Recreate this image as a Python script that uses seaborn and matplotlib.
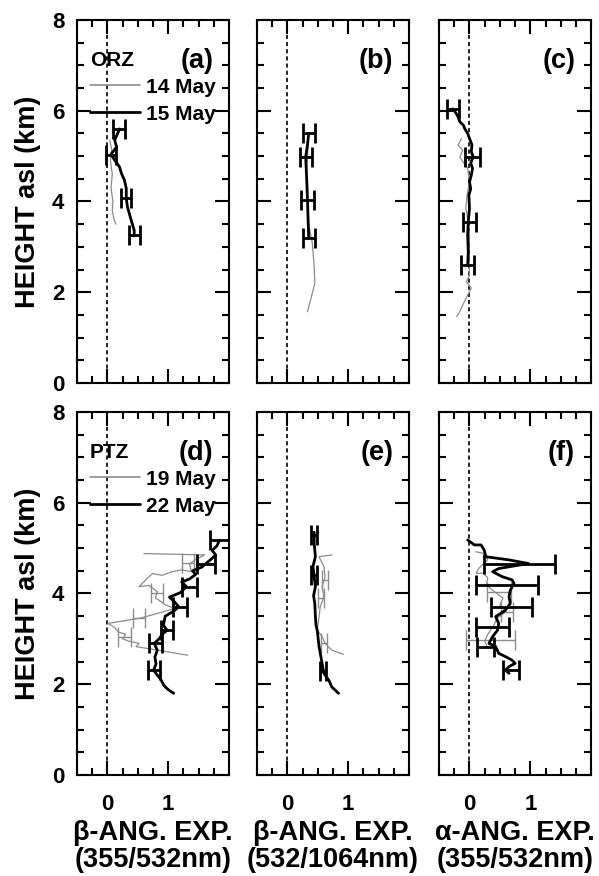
import numpy as np
import pandas as pd
import matplotlib
matplotlib.use('Agg')
import matplotlib.pyplot as plt
from matplotlib.ticker import MultipleLocator
from matplotlib.lines import Line2D
import seaborn as sns

sns.set_style("ticks")
plt.rcParams['font.family'] = ['Liberation Sans', 'DejaVu Sans']
plt.rcParams['font.weight'] = 'bold'
plt.rcParams['text.color'] = 'black'
plt.rcParams['axes.labelcolor'] = 'black'
plt.rcParams['xtick.color'] = 'black'
plt.rcParams['ytick.color'] = 'black'
plt.rcParams['axes.edgecolor'] = 'black'

# ---- data ----
# (a) ORZ beta 355/532
a14_x = [0.04, 0.07, 0.05, 0.08, 0.06, 0.09, 0.08, 0.11, 0.14]
a14_y = [5.35, 5.15, 4.9, 4.6, 4.3, 4.0, 3.8, 3.6, 3.5]
a15_x = [0.20, 0.12, 0.15, 0.06, 0.12, 0.20, 0.23, 0.28, 0.31, 0.31, 0.33, 0.39, 0.44, 0.44]
a15_y = [5.6, 5.35, 5.2, 5.04, 4.91, 4.76, 4.62, 4.47, 4.29, 4.07, 3.88, 3.59, 3.37, 3.24]
a_err_x = [0.19, 0.06, 0.31, 0.44]
a_err_y = [5.6, 5.02, 4.07, 3.26]
a_err = [0.1, 0.08, 0.08, 0.09]

# (b) ORZ beta 532/1064
b14_x = [0.35, 0.33, 0.31, 0.33, 0.35, 0.41, 0.44, 0.45, 0.41, 0.33]
b14_y = [5.5, 5.0, 4.5, 4.0, 3.5, 3.08, 2.56, 2.2, 1.98, 1.57]
b15_x = [0.35, 0.33, 0.30, 0.31, 0.32, 0.33, 0.34, 0.35]
b15_y = [5.5, 5.25, 4.98, 4.7, 4.4, 4.03, 3.6, 3.19]
b_err_x = [0.35, 0.30, 0.33, 0.35]
b_err_y = [5.5, 4.98, 4.03, 3.19]
b_err = [0.1, 0.1, 0.1, 0.1]

# (c) ORZ alpha 355/532
c14_x = [-0.13, -0.19, -0.11, -0.16, -0.11, -0.03, 0.0, -0.04, -0.06, -0.02, 0.0, -0.01, 0.0,
         -0.05, 0.03, -0.03, -0.11, -0.16, -0.21]
c14_y = [5.39, 5.24, 5.13, 4.98, 4.88, 4.73, 4.43, 4.14, 3.85, 3.55, 3.26, 2.9, 2.38,
         2.23, 2.09, 1.94, 1.72, 1.57, 1.46]
c15_x = [-0.27, -0.20, -0.16, -0.10, -0.08, -0.03, 0.0, 0.04, 0.03, 0.06, 0.02, 0.05, 0.03,
         0.0, 0.02, -0.01, 0.0, -0.02, -0.03, -0.02, -0.03]
c15_y = [6.04, 5.9, 5.76, 5.68, 5.61, 5.5, 5.39, 5.25, 5.1, 4.98, 4.85, 4.73, 4.58,
         4.43, 4.28, 4.14, 3.85, 3.55, 3.26, 2.89, 2.6]
c_err_x = [-0.27, 0.05, 0.0, -0.03]
c_err_y = [6.04, 4.98, 3.55, 2.6]
c_err = [0.1, 0.12, 0.11, 0.11]

# (d) PTZ beta 355/532
d19_x = [1.32, 0.47, 0.52, 0.35, 0.25, 0.30, 0.18, 0.12, 0.01, 0.55, 1.11, 0.95, 0.85, 0.79,
         0.82, 0.68, 0.52, 0.63, 0.74, 0.90, 1.06, 1.22, 1.38, 1.35, 1.45, 1.60, 0.60]
d19_y = [2.64, 2.83, 2.9, 2.95, 3.0, 3.1, 3.15, 3.25, 3.34, 3.46, 3.67, 3.75, 3.85, 3.9,
         4.04, 4.18, 4.15, 4.30, 4.44, 4.40, 4.48, 4.52, 4.48, 4.65, 4.75, 4.85, 4.88]
d19_err_x = [0.28, 0.52, 0.82, 1.32]
d19_err_y = [3.05, 3.45, 4.0, 4.67]
d19_err = [0.1, 0.1, 0.1, 0.1]
d22_x = [1.09, 1.0, 0.93, 0.88, 0.82, 0.76, 0.80, 0.78, 0.82, 0.77, 0.85, 0.90, 0.98, 0.92,
         0.95, 1.10, 1.17, 1.10, 1.02, 1.20, 1.30, 1.22, 1.35, 1.45, 1.40, 1.55, 1.62, 1.70,
         1.78, 1.72, 1.80, 1.84]
d22_y = [1.80, 1.88, 1.97, 2.1, 2.2, 2.31, 2.45, 2.6, 2.75, 2.9, 3.0, 3.1, 3.19, 3.3,
         3.5, 3.62, 3.71, 3.82, 3.92, 4.02, 4.15, 4.25, 4.32, 4.42, 4.5, 4.58, 4.66, 4.75,
         4.85, 4.95, 5.05, 5.17]
d22_err_x = [0.76, 0.79, 0.98, 1.19, 1.35, 1.62, 1.84]
d22_err_y = [2.31, 2.9, 3.19, 3.71, 4.15, 4.66, 5.17]
d22_err = [0.1, 0.1, 0.1, 0.12, 0.12, 0.15, 0.15]

# (e) PTZ beta 532/1064
e19_x = [0.73, 0.52, 0.60, 0.62, 0.57, 0.60, 0.54, 0.52, 0.49, 0.57, 0.62, 0.73, 0.92]
e19_y = [4.85, 4.81, 4.59, 4.37, 4.15, 3.93, 3.71, 3.49, 3.19, 3.05, 2.90, 2.75, 2.66]
e19_err_x = [0.62, 0.55, 0.60]
e19_err_y = [4.3, 3.9, 2.9]
e19_err = [0.05, 0.05, 0.05]
e22_x = [0.44, 0.44, 0.46, 0.42, 0.44, 0.46, 0.43, 0.45, 0.46, 0.47, 0.49, 0.52, 0.57,
         0.60, 0.68, 0.73, 0.84]
e22_y = [5.35, 5.10, 4.81, 4.6, 4.37, 4.15, 3.95, 3.78, 3.49, 3.3, 3.19, 2.83, 2.46,
         2.24, 2.09, 1.94, 1.80]
e22_err_x = [0.44, 0.44, 0.58]
e22_err_y = [5.3, 4.4, 2.3]
e22_err = [0.05, 0.05, 0.05]

# (f) PTZ alpha 355/532
f19_x = [0.10, 0.25, 0.30, 0.15, 0.11, 0.22, 0.30, 0.28, 0.35, 0.45, 0.55, 0.50, 0.60,
         0.45, 0.40, 0.30, 0.25, 0.30]
f19_y = [4.92, 4.88, 4.75, 4.55, 4.44, 4.45, 4.35, 4.2, 4.1, 4.0, 3.9, 3.75, 3.6,
         3.45, 3.3, 3.1, 2.95, 2.8]
f19_err_x = [0.49, 0.62, 0.35]
f19_err_y = [4.04, 3.6, 2.97]
f19_err = [0.2, 0.1, 0.4]
f22_x = [-0.03, 0.08, 0.19, 0.24, 0.27, 0.65, 0.97, 0.70, 0.48, 0.38, 0.54, 0.70, 0.73,
         0.67, 0.65, 0.67, 0.59, 0.43, 0.48, 0.46, 0.38, 0.32, 0.43, 0.48, 0.59, 0.70,
         0.75, 0.65, 0.59, 0.65]
f22_y = [5.18, 5.07, 5.07, 4.96, 4.81, 4.74, 4.66, 4.60, 4.55, 4.48, 4.37, 4.30, 4.22,
         4.07, 3.93, 3.78, 3.63, 3.49, 3.34, 3.19, 3.05, 2.90, 2.83, 2.68, 2.61, 2.53,
         2.46, 2.39, 2.31, 2.24]
f22_err_x = [0.82, 0.62, 0.69, 0.38, 0.26, 0.68]
f22_err_y = [4.66, 4.18, 3.71, 3.27, 2.83, 2.31]
f22_err = [0.58, 0.51, 0.34, 0.27, 0.14, 0.13]

panel_tags = ['(a)', '(b)', '(c)', '(d)', '(e)', '(f)']
xlabels = ['β-ANG. EXP.\n(355/532nm)', 'β-ANG. EXP.\n(532/1064nm)', 'α-ANG. EXP.\n(355/532nm)']
ylabel = 'HEIGHT asl (km)'

GRAY = '#8c8c8c'

fig = plt.figure(figsize=(5.99, 8.76), dpi=100)
lefts = [0.1285, 0.429, 0.733]
bottoms = [0.5628, 0.1153]
axes = []
for r in range(2):
    for c in range(3):
        axes.append(fig.add_axes([lefts[c], bottoms[r], 0.254, 0.4144]))


def draw(ax, gx, gy, bx, by, bex, bey, be, gex=None, gey=None, ge=None):
    ax.axvline(0, color='k', lw=1.2, ls=(0, (2.5, 1.8)), zorder=1)
    gdf = pd.DataFrame({'x': gx, 'y': gy})
    bdf = pd.DataFrame({'x': bx, 'y': by})
    sns.lineplot(data=gdf, x='x', y='y', sort=False, estimator=None, color=GRAY, lw=0.9, ax=ax)
    if gex is not None:
        ax.errorbar(gex, gey, xerr=ge, fmt='none', ecolor=GRAY, elinewidth=1.0,
                    capsize=7, capthick=1.0)
    sns.lineplot(data=bdf, x='x', y='y', sort=False, estimator=None, color='k', lw=2.0, ax=ax)
    ax.errorbar(bex, bey, xerr=be, fmt='none', ecolor='k', elinewidth=2.0,
                capsize=7, capthick=2.0)


draw(axes[0], a14_x, a14_y, a15_x, a15_y, a_err_x, a_err_y, a_err)
draw(axes[1], b14_x, b14_y, b15_x, b15_y, b_err_x, b_err_y, b_err)
draw(axes[2], c14_x, c14_y, c15_x, c15_y, c_err_x, c_err_y, c_err)
draw(axes[3], d19_x, d19_y, d22_x, d22_y, d22_err_x, d22_err_y, d22_err,
     d19_err_x, d19_err_y, d19_err)
draw(axes[4], e19_x, e19_y, e22_x, e22_y, e22_err_x, e22_err_y, e22_err,
     e19_err_x, e19_err_y, e19_err)
draw(axes[5], f19_x, f19_y, f22_x, f22_y, f22_err_x, f22_err_y, f22_err,
     f19_err_x, f19_err_y, f19_err)

for i, ax in enumerate(axes):
    ax.set_xlim(-0.5, 2.0)
    ax.set_ylim(0, 8)
    ax.set_xticks([0, 1])
    ax.xaxis.set_minor_locator(MultipleLocator(0.25))
    ax.set_yticks([0, 2, 4, 6, 8])
    ax.yaxis.set_minor_locator(MultipleLocator(0.5))
    ax.tick_params(which='both', direction='in', top=True, right=True, width=1.5, colors='black')
    ax.tick_params(which='major', length=10, labelsize=16)
    ax.tick_params(which='minor', length=5)
    ax.tick_params(axis='x', pad=14)
    ax.tick_params(axis='y', pad=9)
    for s in ax.spines.values():
        s.set_visible(True)
        s.set_linewidth(1.5)
        s.set_color('black')
    ax.set_xlabel('')
    ax.set_ylabel('')
    if i < 3:
        ax.tick_params(axis='x', labelbottom=False)
    else:
        ax.set_xlabel(xlabels[i - 3], fontsize=19.5, fontweight='bold', labelpad=3,
                      linespacing=1.05, color='black')
    if i % 3 != 0:
        ax.tick_params(axis='y', labelleft=False)
    else:
        ax.set_ylabel(ylabel, fontsize=19.5, fontweight='bold', labelpad=8, color='black')
    ax.text(0.895, 0.887, panel_tags[i], transform=ax.transAxes, ha='right', va='center',
            fontsize=19.5, fontweight='bold', color='black')

for ax, site, d1, d2 in [(axes[0], 'ORZ', '14 May', '15 May'), (axes[3], 'PTZ', '19 May', '22 May')]:
    handles = [Line2D([], [], color=GRAY, lw=1.2), Line2D([], [], color='k', lw=2.0)]
    leg = ax.legend(handles, [d1, d2], title=site, loc='upper left', bbox_to_anchor=(0.085, 0.915),
                    frameon=False, prop={'weight': 'bold', 'size': 15},
                    title_fontproperties={'weight': 'bold', 'size': 15},
                    handlelength=2.4, handletextpad=0.3, labelspacing=0.38,
                    borderpad=0, borderaxespad=0)
    leg._legend_box.align = 'left'
    for t in leg.get_texts():
        t.set_color('black')
    leg.get_title().set_color('black')

fig.savefig('out.png', dpi=100)
